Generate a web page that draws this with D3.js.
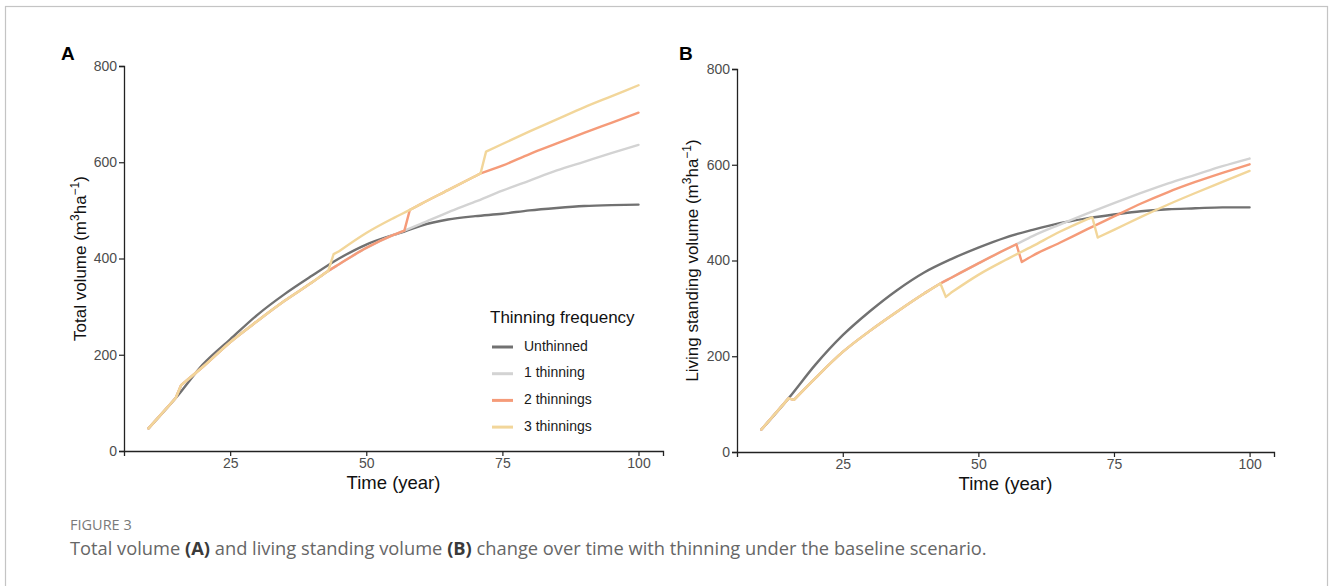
<!DOCTYPE html>
<html>
<head>
<meta charset="utf-8">
<script src="https://cdn.jsdelivr.net/npm/d3@7"></script>
<style>
    body { margin: 0; background: #fff; }
    #fig { width: 1330px; height: 586px; }
    text { font-family: "Liberation Sans", Arial, sans-serif; }
    .caption text { font-family: "Open Sans", "Noto Sans", sans-serif; }
</style>
</head>
<body>
<div id="fig"></div>
<script>

// series (thinning frequency)
let seriesNames = ["Unthinned", "1 thinning", "2 thinnings", "3 thinnings"];
let seriesColors = ["#717171", "#d3d3d3", "#f59b79", "#f2d69a"];

let xTicks = [25, 50, 75, 100];
let yTicks = [0, 200, 400, 600, 800];

// panel A - total volume, [year, m3/ha]
let totalUnthinned = [[10,47],[15,110],[20,180],[25,232],[30,283],[35,326],[40,364],[45,400],[50,429],[55,449],[57,456],[60,468],[65,481],[70,488],[75,493],[80,500],[85,505],[90,509],[95,511],[100,512]];
let totalOne = [[10,47],[15,110],[16,137],[20,175],[25,226],[30,270],[35,312],[40,350],[43,374],[45,388],[50,422],[55,449],[57,458],[60,472],[65,496],[70,518],[75,541],[80,562],[85,583],[90,601],[95,619],[100,636]];
let totalTwo = [[10,47],[15,110],[16,137],[20,175],[25,226],[30,270],[35,312],[40,350],[43,374],[45,388],[50,422],[55,449],[57,458],[58,501],[60,513],[65,542],[70,571],[71,577],[75,593],[80,617],[85,639],[90,661],[95,682],[100,703]];
let totalThree = [[10,47],[15,110],[16,137],[20,175],[25,226],[30,270],[35,312],[40,350],[43,374],[44,409],[45,415],[50,453],[55,484],[58,501],[60,513],[65,542],[70,571],[71,577],[72,622],[75,638],[80,664],[85,689],[90,714],[95,737],[100,760]];

// panel B - living standing volume, [year, m3/ha]
let standUnthinned = [[10,47],[15,112],[20,183],[25,244],[30,294],[35,338],[40,375],[45,403],[50,427],[55,448],[60,464],[65,478],[70,488],[75,496],[80,503],[85,507],[90,509],[95,511],[100,511]];
let standOne = [[10,47],[15,112],[16,109],[20,155],[25,209],[30,253],[35,293],[40,331],[43,352],[45,364],[50,394],[55,423],[57,434],[60,451],[65,475],[70,498],[75,520],[80,541],[85,561],[90,579],[95,597],[100,613]];
let standTwo = [[10,47],[15,112],[16,109],[20,155],[25,209],[30,253],[35,293],[40,331],[43,352],[45,364],[50,394],[55,423],[57,434],[58,397],[60,410],[65,437],[70,465],[75,492],[80,519],[85,543],[90,564],[95,583],[100,601]];
let standThree = [[10,47],[15,112],[16,109],[20,155],[25,209],[30,253],[35,293],[40,331],[43,352],[44,324],[45,333],[50,370],[55,401],[60,430],[65,460],[70,486],[71,490],[72,448],[75,464],[80,491],[85,517],[90,541],[95,564],[100,587]];


class VolumeChart {

    constructor(svg, opts, lines) {
        this.svg = svg;
        this.opts = opts;
        this.lines = lines;
        this.initVis();
    }

    initVis() {
        let vis = this;
        let o = vis.opts;

        vis.x = d3.scaleLinear().domain([5.5, 104.5]).range([o.left, o.right]);
        vis.y = d3.scaleLinear().domain([0, 800]).range([o.bottom, o.top]);

        vis.g = vis.svg.append("g");

        // axes
        let xAxis = d3.axisBottom(vis.x).tickValues(xTicks).tickSize(5).tickPadding(2);
        let yAxis = d3.axisLeft(vis.y).tickValues(yTicks).tickSize(5).tickPadding(2);

        let gx = vis.g.append("g").attr("transform", `translate(0,${o.bottom})`).call(xAxis);
        let gy = vis.g.append("g").attr("transform", `translate(${o.left},0)`).call(yAxis);

        [gx, gy].forEach(a => {
            a.select(".domain").attr("stroke", "#222").attr("stroke-width", 1.3);
            a.selectAll(".tick line").attr("stroke", "#222").attr("stroke-width", 1.2);
            a.selectAll(".tick text")
                .attr("fill", "#4d4d4d")
                .style("font-size", "14px")
                .style("font-family", '"Liberation Sans", Arial, sans-serif');
        });

        // axis titles
        vis.g.append("text")
            .attr("x", (o.left + o.right) / 2)
            .attr("y", o.bottom + 38)
            .attr("text-anchor", "middle")
            .style("font-size", "18.5px")
            .attr("fill", "#111")
            .text("Time (year)");

        let yt = vis.g.append("text")
            .attr("transform", `translate(${o.ylabX},${(o.top + o.bottom) / 2}) rotate(-90)`)
            .attr("text-anchor", "middle")
            .style("font-size", "17px")
            .attr("fill", "#111");
        yt.append("tspan").text(o.ylab + " (m");
        yt.append("tspan").attr("dy", -7).style("font-size", "12px").text("3");
        yt.append("tspan").attr("dy", 7).text("ha");
        yt.append("tspan").attr("dy", -7).style("font-size", "12px").text("\u22121");
        yt.append("tspan").attr("dy", 7).text(")");

        // panel letter
        vis.g.append("text")
            .attr("x", o.letterX)
            .attr("y", 60)
            .style("font-size", "19px")
            .style("font-weight", "bold")
            .attr("fill", "#000")
            .text(o.letter);

        vis.updateVis();
    }

    // smooth between thinnings, straight across a thinning (1-year step)
    buildPath(pts) {
        let vis = this;
        let smooth = d3.line()
            .x(d => vis.x(d[0]))
            .y(d => vis.y(d[1]))
            .curve(d3.curveMonotoneX);

        let parts = [];
        let run = [pts[0]];
        for (let i = 1; i < pts.length; i++) {
            if (pts[i][0] - pts[i - 1][0] <= 1) {
                if (run.length > 1) parts.push(smooth(run));
                parts.push(smooth([pts[i - 1], pts[i]]));
                run = [pts[i]];
            } else {
                run.push(pts[i]);
            }
        }
        if (run.length > 1) parts.push(smooth(run));
        return parts.join("");
    }

    updateVis() {
        let vis = this;

        vis.g.selectAll(".series")
            .data(vis.lines)
            .enter()
            .append("path")
            .attr("class", "series")
            .attr("d", d => vis.buildPath(d))
            .attr("fill", "none")
            .attr("stroke", (d, i) => seriesColors[i])
            .attr("stroke-width", 2.4)
            .attr("stroke-linejoin", "round")
            .attr("stroke-linecap", "round");
    }
}

let svg = d3.select("#fig").append("svg")
    .attr("width", 1330)
    .attr("height", 586);

// outer frame
svg.append("rect")
    .attr("x", 5.5).attr("y", 6.5)
    .attr("width", 1322).attr("height", 620)
    .attr("fill", "none")
    .attr("stroke", "#c4c4c4")
    .attr("stroke-width", 1.2);

let chartA = new VolumeChart(svg,
    {left: 124, right: 663, top: 66, bottom: 451, ylabX: 86, letter: "A", letterX: 61, ylab: "Total volume"},
    [totalUnthinned, totalOne, totalTwo, totalThree]);

let chartB = new VolumeChart(svg,
    {left: 737, right: 1274, top: 69, bottom: 452, ylabX: 698, letter: "B", letterX: 679, ylab: "Living standing volume"},
    [standUnthinned, standOne, standTwo, standThree]);

// legend (only in panel A)
let legend = svg.append("g").attr("transform", "translate(490,0)");
legend.append("text")
    .attr("x", 0).attr("y", 323)
    .style("font-size", "17px")
    .attr("fill", "#111")
    .text("Thinning frequency");

seriesNames.forEach((name, i) => {
    let yy = 347 + i * 26.7;
    legend.append("line")
        .attr("x1", 2).attr("x2", 23)
        .attr("y1", yy).attr("y2", yy)
        .attr("stroke", seriesColors[i])
        .attr("stroke-width", 3);
    legend.append("text")
        .attr("x", 34).attr("y", yy)
        .attr("dominant-baseline", "middle")
        .style("font-size", "14px")
        .attr("fill", "#1a1a1a")
        .text(name);
});

// caption
let cap = svg.append("g").attr("class", "caption");
cap.append("text")
    .attr("x", 70).attr("y", 530)
    .style("font-size", "14.5px")
    .attr("fill", "#7a7a7a")
    .text("FIGURE 3");

let ct = cap.append("text")
    .attr("x", 70).attr("y", 555)
    .style("font-size", "18.3px")
    .attr("fill", "#666");
ct.append("tspan").text("Total volume ");
ct.append("tspan").style("font-weight", "bold").attr("fill", "#3a3a3a").text("(A)");
ct.append("tspan").text(" and living standing volume ");
ct.append("tspan").style("font-weight", "bold").attr("fill", "#3a3a3a").text("(B)");
ct.append("tspan").text(" change over time with thinning under the baseline scenario.");

</script>
</body>
</html>
